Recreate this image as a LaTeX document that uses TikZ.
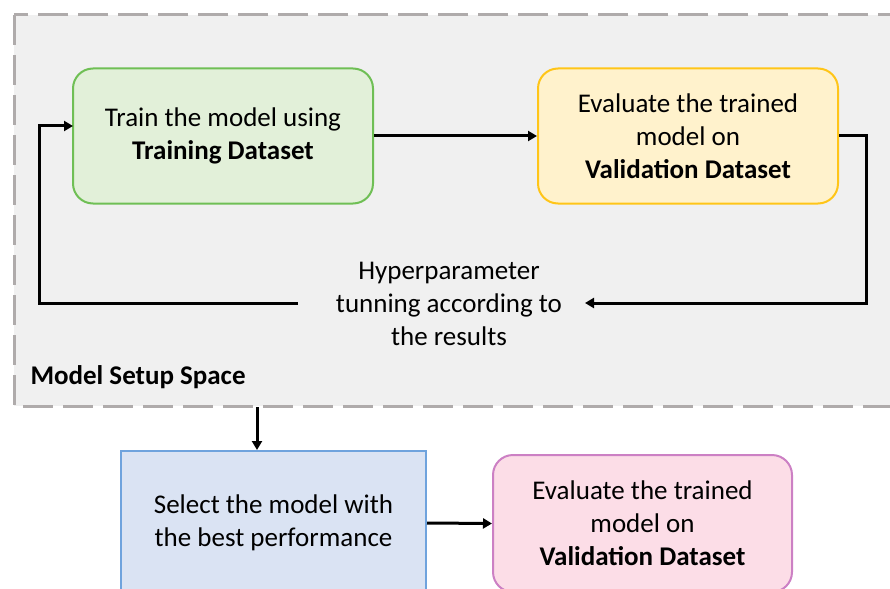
\documentclass[tikz,border=0pt]{standalone}
\usepackage{fontspec}
\setmainfont{Carlito}
\usetikzlibrary{arrows.meta}
\definecolor{spacefill}{HTML}{F0F0F0}
\definecolor{spacedash}{HTML}{AFABAB}
\definecolor{greenfill}{HTML}{E2F0D9}
\definecolor{greenline}{HTML}{6FBF55}
\definecolor{yellowfill}{HTML}{FFF2CC}
\definecolor{yellowline}{HTML}{FFC518}
\definecolor{bluefill}{HTML}{DAE3F3}
\definecolor{blueline}{HTML}{6FA3DD}
\definecolor{pinkfill}{HTML}{FCDDE7}
\definecolor{pinkline}{HTML}{CC80C4}
\tikzset{
  every node/.style={font=\fontsize{27}{33}\selectfont, align=center},
  stepbox/.style={draw, line width=2pt, rounded corners=20pt, inner sep=0pt},
  flow/.style={line width=3pt, -{Triangle[length=9pt,width=10pt]}},
}
\begin{document}
\begin{tikzpicture}[x=1pt, y=-1pt]
  \useasboundingbox (0,0) rectangle (890,588);
  \clip (0,0) rectangle (890,588);
  % model setup space
  \draw[fill=spacefill, draw=spacedash, line width=3pt, dash pattern=on 30pt off 10pt]
    (14,15) rectangle (910,406);
  \node[anchor=west, font=\fontsize{27}{33}\selectfont\bfseries] (space) at (27,377) {Model Setup Space};
  % steps
  \node[stepbox, fill=greenfill, draw=greenline, minimum width=300pt, minimum height=135pt]
    (train) at (223,136) {Train the model using\\\textbf{Training Dataset}};
  \node[stepbox, fill=yellowfill, draw=yellowline, minimum width=300pt, minimum height=135pt]
    (eval) at (688,136) {Evaluate the trained\\model on\\\textbf{Validation Dataset}};
  \node (hp) at (449,304) {Hyperparameter\\tunning according to\\the results};
  \coordinate (hpL) at (298,303);
  \coordinate (hpR) at (585,303);
  \coordinate (rloop) at (866,303);
  \coordinate (lloop) at (39,303);
  \coordinate (entry) at (73,126);
  % loop connectors
  \draw[flow] (train.east) -- (eval.west);
  \draw[flow] (eval.east) -| (rloop) -- (hpR);
  \draw[flow] (hpL) -- (lloop) |- (entry);
  % after the loop
  \node[draw=blueline, fill=bluefill, line width=2pt, minimum width=305pt, minimum height=144pt, inner sep=0pt]
    (select) at (273.5,523) {Select the model with\\the best performance};
  \node[stepbox, fill=pinkfill, draw=pinkline, minimum width=299pt, minimum height=137pt]
    (final) at (642.5,523.5) {Evaluate the trained\\model on\\\textbf{Validation Dataset}};
  \coordinate (spaceout) at (257,407);
  \draw[flow] (spaceout) -- (spaceout |- select.north);
  \draw[flow] (select.east) -- (final.west);
\end{tikzpicture}
\end{document}
